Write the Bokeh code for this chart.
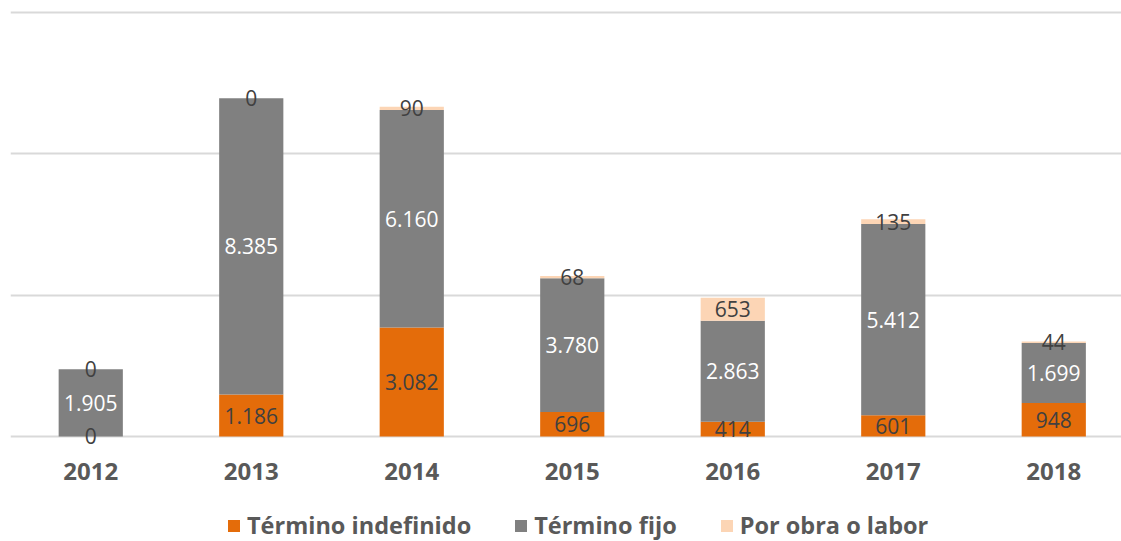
from bokeh.plotting import figure
from bokeh.models import ColumnDataSource, Range1d, FixedTicker, LabelSet, Legend, LegendItem
from bokeh.core.properties import value
from bokeh.embed import file_html
from bokeh.resources import INLINE

years = ["2012", "2013", "2014", "2015", "2016", "2017", "2018"]
indefinido = [0, 1186, 3082, 696, 414, 601, 948]
fijo = [1905, 8385, 6160, 3780, 2863, 5412, 1699]
obra = [0, 0, 90, 68, 653, 135, 44]

series_names = ["Término indefinido", "Término fijo", "Por obra o labor"]
colors = ["#E46C0A", "#808080", "#FCD5B5"]
label_colors = ["#404040", "#FFFFFF", "#404040"]
grid_ticks = [0, 4000, 8000, 12000]

def fmt(v):
    return f"{v:,}".replace(",", ".")

x = list(range(len(years)))
src = ColumnDataSource(dict(x=x, ind=indefinido, fij=fijo, obr=obra))

p = figure(width=1121, height=541, output_backend="svg", toolbar_location=None,
           x_range=Range1d(-0.5, 6.422), y_range=Range1d(-2972, 12057),
           min_border_left=10, min_border_right=0, min_border_top=10, min_border_bottom=0)
p.outline_line_color = None
p.background_fill_color = "white"
p.xaxis.visible = False
p.yaxis.visible = False
p.xgrid.visible = False
p.ygrid.ticker = FixedTicker(ticks=grid_ticks)
p.ygrid.grid_line_color = "#D9D9D9"
p.ygrid.grid_line_width = 2

r = p.vbar_stack(["ind", "fij", "obr"], x="x", width=0.4, source=src, color=colors,
                 line_color=None)

# data labels centered in segments
bottoms = [0] * len(years)
for vals, lc in zip([indefinido, fijo, obra], label_colors):
    mids = [b + v / 2 for b, v in zip(bottoms, vals)]
    ls = ColumnDataSource(dict(x=x, y=mids, t=[fmt(v) for v in vals]))
    p.add_layout(LabelSet(x="x", y="y", text="t", source=ls, text_align="center",
                          text_baseline="middle", text_color=lc,
                          text_font=value("Open Sans"), text_font_size="21px"))
    bottoms = [b + v for b, v in zip(bottoms, vals)]

# category labels
cat_src = ColumnDataSource(dict(x=x, y=[0] * len(years), t=years))
p.add_layout(LabelSet(x="x", y="y", text="t", source=cat_src, text_align="center",
                      text_baseline="middle", y_offset=-35, text_color="#595959",
                      text_font=value("Open Sans"), text_font_style="bold",
                      text_font_size="24px"))

legend = Legend(items=[LegendItem(label=n, renderers=[rr]) for n, rr in zip(series_names, r)],
                orientation="horizontal", location=(216, 0),
                label_text_font="Open Sans", label_text_font_style="bold",
                label_text_font_size="23.5px", label_text_color="#595959",
                glyph_width=15, glyph_height=15, spacing=42, label_standoff=6,
                border_line_color=None, background_fill_alpha=0, padding=0, margin=0)
p.add_layout(legend)

open("out.html", "w").write(file_html(p, INLINE))
